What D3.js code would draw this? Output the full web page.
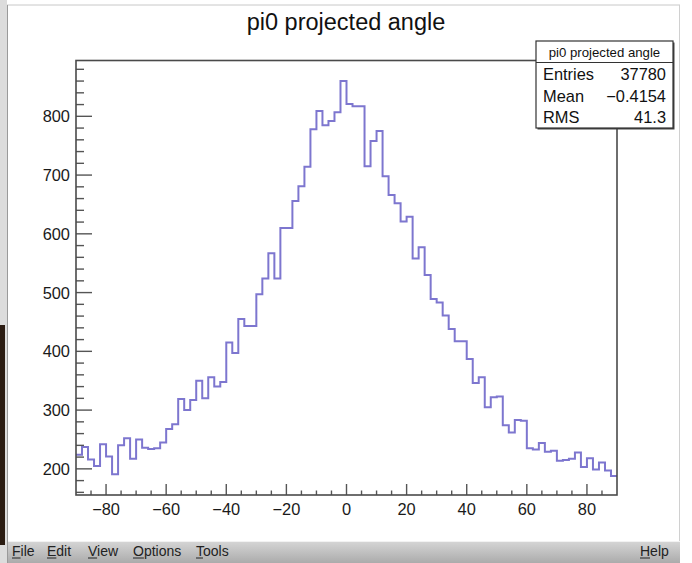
<!DOCTYPE html>
<html>
<head>
<meta charset="utf-8">
<style>
    body { margin: 0; background: #fff; }
    svg { display: block; font-family: 'Liberation Sans', Arial, sans-serif; }
    .tick-label { font-size: 16.4px; fill: #1a1a1a; }
    .menu { font-size: 14px; fill: #222; }
</style>
</head>
<body>
<svg width="692" height="563"></svg>
<script src="https://d3js.org/d3.v7.min.js"></script>
<script>
// histogram: 90 bins of width 2 from -90 to 90
let binLow = -90
let binWidth = 2
let counts = [
    224, 237, 216, 205, 242, 221, 191, 240, 252, 217,
    250, 236, 234, 235, 245, 268, 276, 319, 300, 317,
    350, 320, 356, 340, 348, 415, 397, 455, 443, 443,
    497, 524, 567, 524, 610, 610, 656, 681, 714, 778,
    809, 785, 792, 807, 860, 821, 817, 817, 715, 758,
    775, 698, 666, 652, 621, 629, 558, 577, 530, 489,
    483, 461, 438, 417, 417, 387, 346, 356, 305, 322,
    323, 274, 262, 283, 282, 235, 233, 244, 229, 231,
    214, 215, 217, 228, 203, 218, 199, 211, 197, 188
]
let xTicks = [-80, -60, -40, -20, 0, 20, 40, 60, 80]
let yTicks = [200, 300, 400, 500, 600, 700, 800]
let xDomain = [-90, 90]
let yDomain = [155.5, 895]

let title = "pi0 projected angle"
let statsRows = [["Entries", "37780"], ["Mean", "\u22120.4154"], ["RMS", "41.3"]]
let menuItems = ["File", "Edit", "View", "Options", "Tools"]

let svg = d3.select("svg")

// window chrome
svg.append("rect").attr("x", 0).attr("y", 0).attr("width", 7).attr("height", 563).attr("fill", "#dcdcdc")
svg.append("rect").attr("x", 0).attr("y", 325).attr("width", 5).attr("height", 220).attr("fill", "#2b1c12")
svg.append("line").attr("x1", 7).attr("x2", 680).attr("y1", 5).attr("y2", 5).style("stroke", "#c8c8c8")
svg.append("line").attr("x1", 7.5).attr("x2", 7.5).attr("y1", 5).attr("y2", 563).style("stroke", "#9a9a9a")
svg.append("line").attr("x1", 679.5).attr("x2", 679.5).attr("y1", 5).attr("y2", 541).style("stroke", "#d0d0d0")

let grad = svg.append("defs").append("linearGradient")
    .attr("id", "menuGrad").attr("x1", 0).attr("x2", 0).attr("y1", 0).attr("y2", 1)
grad.append("stop").attr("offset", "0%").attr("stop-color", "#d6d6d6")
grad.append("stop").attr("offset", "100%").attr("stop-color", "#ababab")
svg.append("rect").attr("x", 8).attr("y", 541).attr("width", 672).attr("height", 22).attr("fill", "url(#menuGrad)")
svg.append("line").attr("x1", 8).attr("x2", 680).attr("y1", 541.5).attr("y2", 541.5).style("stroke", "#f2f2f2")

let menuX = [12, 47, 88, 133, 196]
menuItems.forEach((m, i) => {
    let t = svg.append("text").attr("class", "menu").attr("x", menuX[i]).attr("y", 556).text(m)
    let w = t.node().getComputedTextLength()
    let first = t.node().getSubStringLength(0, 1)
    svg.append("line").attr("x1", menuX[i]).attr("x2", menuX[i] + first)
        .attr("y1", 558).attr("y2", 558).style("stroke", "#222")
})
svg.append("text").attr("class", "menu").attr("x", 640).attr("y", 556).text("Help")
svg.append("line").attr("x1", 640).attr("x2", 650).attr("y1", 558).attr("y2", 558).style("stroke", "#222")

// frame and scales
let frame = { left: 76, right: 617, top: 60.5, bottom: 495 }

let x = d3.scaleLinear().domain(xDomain).range([frame.left, frame.right])
let y = d3.scaleLinear().domain(yDomain).range([frame.bottom, frame.top])

svg.append("clipPath").attr("id", "frameClip").append("rect")
    .attr("x", frame.left).attr("y", frame.top)
    .attr("width", frame.right - frame.left).attr("height", frame.bottom - frame.top)

// histogram outline (ROOT style step line)
let stepPoints = counts.map((c, i) => [binLow + i * binWidth, c])
stepPoints.push([binLow + counts.length * binWidth, counts[counts.length - 1]])

let line = d3.line()
    .x(d => x(d[0]))
    .y(d => y(d[1]))
    .curve(d3.curveStepAfter)

svg.append("path")
    .attr("d", line(stepPoints))
    .attr("clip-path", "url(#frameClip)")
    .style("fill", "none")
    .style("stroke", "#7d76cf")
    .style("stroke-width", 2)

// x axis ticks (pointing up into frame)
let xMinor = d3.range(-85, 90, 5).filter(v => v % 20 !== 0)
svg.append("g").selectAll("line").data(xMinor).join("line")
    .attr("x1", d => x(d)).attr("x2", d => x(d))
    .attr("y1", frame.bottom).attr("y2", frame.bottom - 4.5)
    .style("stroke", "#555").style("stroke-width", 1.4)
svg.append("g").selectAll("line").data(xTicks).join("line")
    .attr("x1", d => x(d)).attr("x2", d => x(d))
    .attr("y1", frame.bottom).attr("y2", frame.bottom - 11)
    .style("stroke", "#555").style("stroke-width", 1.4)
svg.append("g").selectAll("text").data(xTicks).join("text")
    .attr("class", "tick-label")
    .attr("x", d => x(d))
    .attr("y", 515)
    .attr("text-anchor", "middle")
    .text(d => d < 0 ? "\u2212" + Math.abs(d) : d)

// y axis ticks (pointing right into frame)
let yMinor = d3.range(160, 895, 20).filter(v => v % 100 !== 0)
svg.append("g").selectAll("line").data(yMinor).join("line")
    .attr("x1", frame.left).attr("x2", frame.left + 8)
    .attr("y1", d => y(d)).attr("y2", d => y(d))
    .style("stroke", "#555").style("stroke-width", 1.4)
svg.append("g").selectAll("line").data(yTicks).join("line")
    .attr("x1", frame.left).attr("x2", frame.left + 16)
    .attr("y1", d => y(d)).attr("y2", d => y(d))
    .style("stroke", "#555").style("stroke-width", 1.4)
svg.append("g").selectAll("text").data(yTicks).join("text")
    .attr("class", "tick-label")
    .attr("x", 70)
    .attr("y", d => y(d) + 6)
    .attr("text-anchor", "end")
    .text(d => d)

// frame border
svg.append("rect")
    .attr("x", frame.left).attr("y", frame.top)
    .attr("width", frame.right - frame.left).attr("height", frame.bottom - frame.top)
    .style("fill", "none").style("stroke", "#4a4a4a").style("stroke-width", 1.6)

// title
svg.append("text")
    .attr("x", 346).attr("y", 30)
    .attr("text-anchor", "middle")
    .style("font-size", "23.5px").style("fill", "#111")
    .text(title)

// stats box
let box = { x: 536, y: 41, w: 137, h: 87 }
svg.append("rect").attr("x", box.x + 1.5).attr("y", box.y + 1.5).attr("width", box.w).attr("height", box.h)
    .style("fill", "#444")
svg.append("rect").attr("x", box.x).attr("y", box.y).attr("width", box.w).attr("height", box.h)
    .style("fill", "#fff").style("stroke", "#333").style("stroke-width", 1.2)
svg.append("line").attr("x1", box.x).attr("x2", box.x + box.w).attr("y1", 62.5).attr("y2", 62.5)
    .style("stroke", "#333").style("stroke-width", 1.2)
svg.append("text").attr("x", box.x + box.w / 2).attr("y", 57)
    .attr("text-anchor", "middle").style("font-size", "13.2px").style("fill", "#111")
    .text(title)
statsRows.forEach((r, i) => {
    let by = 80 + i * 21.5
    svg.append("text").attr("x", 543).attr("y", by)
        .style("font-size", "16.4px").style("fill", "#111").text(r[0])
    svg.append("text").attr("x", 666).attr("y", by).attr("text-anchor", "end")
        .style("font-size", "16.4px").style("fill", "#111").text(r[1])
})
</script>
</body>
</html>
